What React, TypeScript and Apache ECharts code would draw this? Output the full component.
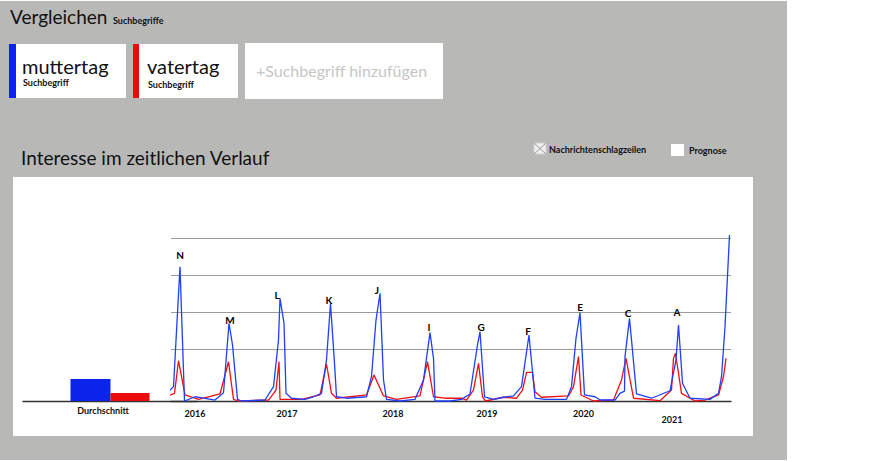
import React, { useEffect, useRef } from "react";
import * as echarts from "echarts";

// ---- data ----
const barCategories = ["Durchschnitt"];
const avgMuttertag = [13.5];
const avgVatertag = [4.9];

// horizontal reference lines of the plot (interest values)
const gridLineValues = [31.9, 54.6, 77.3, 100];

// [zeitindex, interesse]
const muttertagPoints: [number, number][] = [
  [0, 1.7], [2.3, 8.8], [3.6, 82.4], [4.5, 0], [6.6, 2.6], [8.3, 1.7], [10.6, 0.6], [12.3, 5.1],
  [13.4, 47.7], [14.1, 34.4], [15.1, 1], [15.9, 0], [20.6, 0.6], [22.3, 8.8], [23.3, 37.4], [23.6, 63],
  [24.4, 47.7], [24.8, 4.7], [25.9, 1.7], [28.6, 1], [30.3, 2.6], [31.9, 4.7], [32.9, 25.2], [33.7, 59.9],
  [34.5, 23.1], [34.9, 2.6], [36.9, 1.7], [40.9, 2.6], [41.9, 14.9], [42.8, 49.7], [43.6, 66.1], [44.3, 12.9],
  [44.9, 1], [47.6, 0], [50.6, 1], [52.3, 12.9], [53.6, 41.9], [54.3, 26.2], [54.6, 0], [57.6, 0],
  [59.9, 1], [61.6, 4.3], [63.1, 34.4], [63.6, 42.5], [64.5, 2.6], [66.3, 1], [68.3, 2.3], [70.3, 3.1],
  [71.9, 8.8], [73.4, 40.5], [74.6, 1.7], [76.6, 1], [80.9, 1], [81.9, 8.8], [82.8, 38.5], [83.6, 54.2],
  [84.5, 3.7], [86.6, 2.6], [87.6, 0.6], [90.6, 0.6], [91.6, 4.7], [92.5, 6.1], [92.6, 27.2], [93.5, 50.7],
  [94.9, 4.3], [97.9, 1.7], [101.6, 6.3], [102.8, 25.2], [103.3, 46.6], [104.1, 10.9], [105.6, 1.7], [109.6, 1],
  [111.3, 4.7], [111.9, 14.9], [112.6, 45.6], [113.5, 101.8],
];

const vatertagPoints: [number, number][] = [
  [0, 1.7], [2.5, 4.7], [3.3, 24.7], [4.6, 3.7], [7.3, 1], [11.6, 4.3], [13.3, 24.1], [14.3, 1],
  [15.3, 0], [21.3, 0.6], [22.8, 6.7], [23.4, 24.1], [23.6, 1], [27.9, 1], [31.6, 3.7], [32.9, 22.7],
  [33.9, 4.7], [34.9, 1.7], [40.9, 3.7], [42.4, 16], [44.3, 3.1], [46.9, 1], [51.6, 3.1], [53.1, 24.1],
  [54.3, 2.6], [56.6, 1.7], [59.9, 1.7], [60.9, 0.6], [62.3, 6.7], [63.3, 23.1], [64.1, 2.6], [64.7, 0],
  [68.3, 2.3], [70.9, 1.7], [72.1, 6.7], [72.9, 17.6], [74.1, 17.6], [74.6, 5.7], [75.9, 2.3], [81.3, 3.1],
  [82.3, 8.8], [83.3, 27.2], [83.8, 3.7], [86.3, 0], [90.3, 0.6], [91.9, 12.9], [92.8, 26.2], [94.3, 1.7],
  [99.6, 0.2], [101.9, 6.7], [102.3, 26.2], [102.7, 29.3], [103.9, 4.7], [106.6, 0], [108.6, 0.6], [111.3, 3.7],
  [112.3, 14.9], [112.8, 26.2],
];

const yearLabels = ["2016", "2017", "2018", "2019", "2020", "2021"];
const yearPositions = [6.6, 25, 46.2, 65, 84.3, 102];

const peakLetters = ["N", "M", "L", "K", "J", "I", "G", "F", "E", "C", "A"];
const peakLetterTime = [3.6, 13.6, 23, 33.4, 43, 53.4, 63.8, 73.2, 83.6, 93.2, 103];
const peakLetterValue = [89.6, 49.7, 65, 62, 68.1, 45.4, 45.4, 42.9, 57.7, 54, 54.6];

const BLUE_BAR = "#0b24ec";
const RED_BAR = "#ec0b0b";
const BLUE_LINE = "#1f40ff";
const RED_LINE = "#ee1111";
const FONT = "Lato, 'Open Sans', sans-serif";

export default function App() {
  const ref = useRef<HTMLDivElement>(null);
  useEffect(() => {
    if (!ref.current) return;
    const chart = echarts.init(ref.current, undefined, { renderer: "svg" });
    const txt = (text: string, x: number, y: number, size: number, weight: string, fill: string, z = 5) => ({
      type: "text",
      z,
      style: {
        text,
        x,
        y,
        fill,
        font: `${weight} ${size}px ${FONT}`,
        lineHeight: size,
        verticalAlign: "middle",
        align: "left",
      },
    });
    const option: any = {
      animation: false,
      graphic: [
        { type: "rect", z: -5, shape: { x: 0, y: 1, width: 787, height: 459 }, style: { fill: "#b8b8b7" } },
        txt("Vergleichen", 10, 16.5, 19, "normal", "#111"),
        txt("Suchbegriffe", 113, 20, 9, "bold", "#111"),
        // card 1
        { type: "rect", z: -4, shape: { x: 9, y: 44, width: 117, height: 54 }, style: { fill: "#ffffff" } },
        { type: "rect", z: -3, shape: { x: 9, y: 44, width: 7, height: 54 }, style: { fill: BLUE_BAR } },
        txt("muttertag", 22, 65.5, 20, "normal", "#111"),
        txt("Suchbegriff", 23, 82.5, 9, "bold", "#111"),
        // card 2
        { type: "rect", z: -4, shape: { x: 133, y: 44, width: 105, height: 54 }, style: { fill: "#ffffff" } },
        { type: "rect", z: -3, shape: { x: 133, y: 44, width: 6, height: 54 }, style: { fill: RED_BAR } },
        txt("vatertag", 147, 65.5, 20, "normal", "#111"),
        txt("Suchbegriff", 148, 84, 9, "bold", "#111"),
        // card 3
        { type: "rect", z: -4, shape: { x: 245, y: 43, width: 198, height: 56 }, style: { fill: "#ffffff" } },
        txt("+Suchbegriff hinzufügen", 256, 70, 16, "normal", "#c6c6c6"),
        // subtitle
        txt("Interesse im zeitlichen Verlauf", 21, 157.5, 19, "normal", "#111"),
        // legend
        { type: "rect", z: -3, shape: { x: 534, y: 143, width: 12, height: 11 }, style: { fill: "#efefef", stroke: "#d0d0d0", lineWidth: 1 } },
        { type: "line", z: -2, shape: { x1: 534, y1: 143, x2: 546, y2: 154 }, style: { stroke: "#9a9a9a", lineWidth: 1 } },
        { type: "line", z: -2, shape: { x1: 546, y1: 143, x2: 534, y2: 154 }, style: { stroke: "#9a9a9a", lineWidth: 1 } },
        txt("Nachrichtenschlagzeilen", 549, 149, 9, "bold", "#111"),
        { type: "rect", z: -3, shape: { x: 671, y: 144, width: 13, height: 12 }, style: { fill: "#ffffff" } },
        txt("Prognose", 689, 150, 9, "bold", "#111"),
        // chart panel
        { type: "rect", z: -4, shape: { x: 13, y: 177, width: 740, height: 259 }, style: { fill: "#ffffff" } },
      ],
      grid: [
        { left: 23, width: 174, top: 238, bottom: 60 },
        { left: 171, right: 155, top: 238, bottom: 60 },
      ],
      xAxis: [
        {
          gridIndex: 0,
          type: "category",
          data: barCategories,
          axisLine: { show: true, lineStyle: { color: "#333", width: 1.3 } },
          axisTick: { show: false },
          axisLabel: {
            margin: 5,
            padding: [0, 14, 0, 0],
            color: "#111",
            fontFamily: FONT,
            fontSize: 9,
            fontWeight: "bold",
          },
        },
        {
          gridIndex: 1,
          type: "value",
          min: 1.8,
          max: 113.8,
          axisLine: { show: true, lineStyle: { color: "#333", width: 1.3 } },
          axisTick: { show: false },
          splitLine: { show: false },
          axisLabel: {
            customValues: yearPositions,
            margin: 8,
            color: "#111",
            fontFamily: FONT,
            fontSize: 9,
            fontWeight: "bold",
            formatter: (v: number) => {
              const i = yearPositions.findIndex((p) => Math.abs(p - v) < 0.01);
              if (i < 0) return "";
              return i === yearLabels.length - 1 ? `{low|${yearLabels[i]}}` : yearLabels[i];
            },
            rich: {
              low: { fontFamily: FONT, fontSize: 9, fontWeight: "bold", color: "#111", padding: [6, 0, 0, 0] },
            },
          },
        },
      ],
      yAxis: [
        { gridIndex: 0, type: "value", min: 0, max: 100, show: false },
        {
          gridIndex: 1,
          type: "value",
          min: 0,
          max: 100,
          axisLine: { show: false },
          axisTick: { show: false },
          axisLabel: { show: false },
          splitLine: { show: false },
        },
      ],
      series: [
        {
          type: "bar",
          xAxisIndex: 0,
          yAxisIndex: 0,
          data: avgMuttertag,
          barWidth: 40,
          barGap: "0%",
          color: BLUE_BAR,
          itemStyle: { color: BLUE_BAR },
        },
        {
          type: "bar",
          xAxisIndex: 0,
          yAxisIndex: 0,
          data: avgVatertag,
          barWidth: 39,
          barGap: "0%",
          color: RED_BAR,
          itemStyle: { color: RED_BAR },
        },
        {
          type: "line",
          xAxisIndex: 1,
          yAxisIndex: 1,
          data: vatertagPoints,
          symbol: "none",
          clip: false,
          color: RED_LINE,
          lineStyle: { color: RED_LINE, width: 1.3 },
          z: 3,
          markLine: {
            silent: true,
            symbol: "none",
            z: 1,
            label: { show: false },
            lineStyle: { color: "#9a9a9a", width: 1, type: "solid" },
            data: gridLineValues.map((v) => ({ yAxis: v })),
          },
        },
        {
          type: "line",
          xAxisIndex: 1,
          yAxisIndex: 1,
          data: muttertagPoints,
          symbol: "none",
          clip: false,
          color: BLUE_LINE,
          lineStyle: { color: BLUE_LINE, width: 1.3 },
          z: 4,
          markPoint: {
            symbol: "circle",
            symbolSize: 1,
            z: 6,
            itemStyle: { color: "rgba(0,0,0,0)" },
            label: {
              show: true,
              position: "inside",
              formatter: "{b}",
              color: "#000",
              textBorderWidth: 0,
              fontFamily: FONT,
              fontSize: 10,
              fontWeight: "bold",
            },
            data: peakLetters.map((l, i) => ({ name: l, coord: [peakLetterTime[i], peakLetterValue[i]] })),
          },
        },
      ],
    };
    chart.setOption(option);
    return () => chart.dispose();
  }, []);
  return (
    <div
      ref={ref}
      style={{ position: "absolute", left: 0, top: 0, width: 886, height: 461 }}
    />
  );
}
